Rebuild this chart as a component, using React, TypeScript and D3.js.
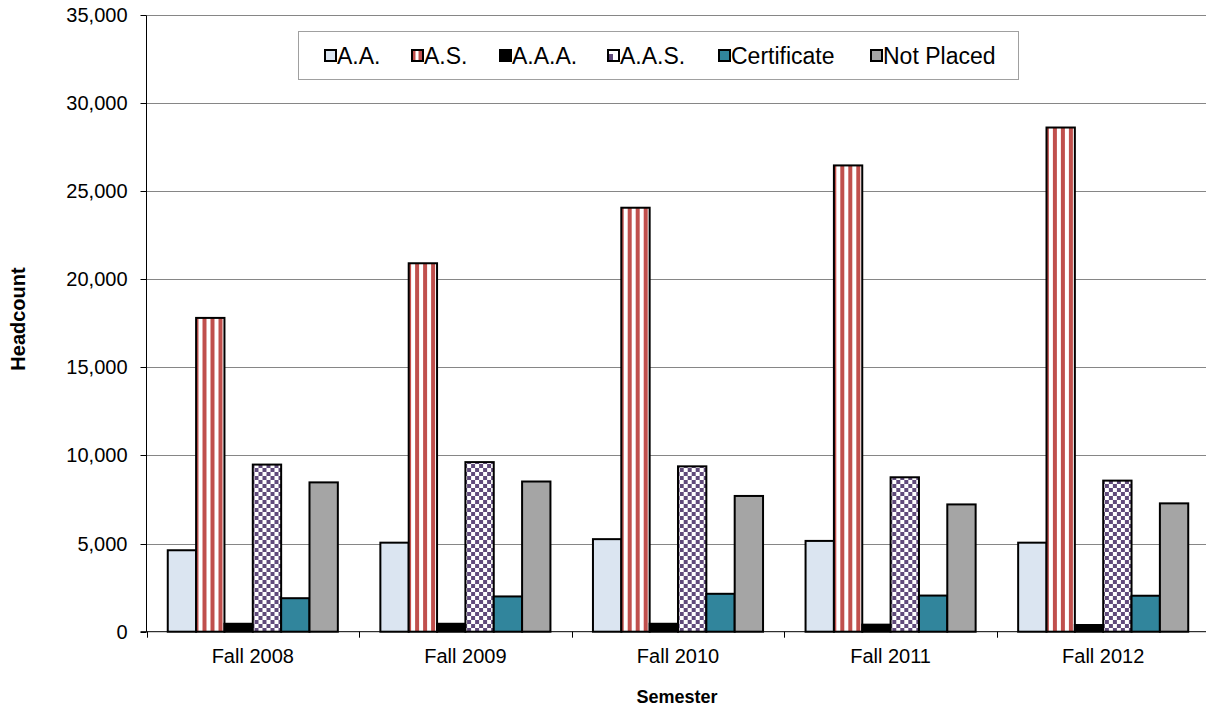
import React, { useEffect, useRef } from "react";
import * as d3 from "d3";

const categories = ["Fall 2008", "Fall 2009", "Fall 2010", "Fall 2011", "Fall 2012"];
const seriesNames = ["A.A.", "A.S.", "A.A.A.", "A.A.S.", "Certificate", "Not Placed"];
const aaValues = [4620, 5050, 5250, 5150, 5050];
const asValues = [17800, 20900, 24050, 26450, 28600];
const aaaValues = [450, 450, 450, 400, 380];
const aasValues = [9480, 9620, 9380, 8760, 8570];
const certValues = [1900, 2000, 2150, 2050, 2040];
const notPlacedValues = [8470, 8520, 7700, 7220, 7280];
const yTicks = [0, 5000, 10000, 15000, 20000, 25000, 30000, 35000];

const seriesValues = [aaValues, asValues, aaaValues, aasValues, certValues, notPlacedValues];
const fills = ["#dbe5f1", "url(#stripes)", "#000000", "url(#checker)", "#31859c", "#a5a5a5"];
const legendFills = ["#dbe5f1", "url(#stripesL)", "#000000", "url(#checkerL)", "#31859c", "#a5a5a5"];
const legendX = [324, 411, 499, 607, 718, 870];

export default function App() {
  const ref = useRef<SVGSVGElement>(null);

  useEffect(() => {
    const svg = d3.select(ref.current);
    svg.selectAll("*").remove();

    const W = 1206;
    const left = 146.5, right = 1209.5, top = 14.7, bottom = 631.7;
    const font = "Arial, 'Liberation Sans', sans-serif";

    const defs = svg.append("defs");
    const st = defs.append("pattern").attr("id", "stripes").attr("patternUnits", "userSpaceOnUse")
      .attr("width", 8).attr("height", 8);
    st.append("rect").attr("width", 8).attr("height", 8).attr("fill", "#ffffff");
    st.append("rect").attr("x", 0).attr("width", 4).attr("height", 8).attr("fill", "#c0504d");
    const stL = defs.append("pattern").attr("id", "stripesL").attr("patternUnits", "userSpaceOnUse")
      .attr("width", 12).attr("height", 12).attr("x", 0).attr("y", 0);
    stL.append("rect").attr("width", 12).attr("height", 12).attr("fill", "#c0504d");
    stL.append("rect").attr("x", 4.5).attr("width", 3).attr("height", 12).attr("fill", "#ffffff");

    const ch = defs.append("pattern").attr("id", "checker").attr("patternUnits", "userSpaceOnUse")
      .attr("width", 8).attr("height", 8);
    ch.append("rect").attr("width", 8).attr("height", 8).attr("fill", "#ffffff");
    ch.append("rect").attr("x", 0).attr("y", 0).attr("width", 4).attr("height", 4).attr("fill", "#604a7b");
    ch.append("rect").attr("x", 4).attr("y", 4).attr("width", 4).attr("height", 4).attr("fill", "#604a7b");
    const chL = defs.append("pattern").attr("id", "checkerL").attr("patternUnits", "userSpaceOnUse")
      .attr("width", 12).attr("height", 12).attr("x", 0).attr("y", 0);
    chL.append("rect").attr("width", 12).attr("height", 12).attr("fill", "#ffffff");
    chL.append("rect").attr("x", 0).attr("y", 6).attr("width", 6).attr("height", 6).attr("fill", "#604a7b");

    const x0 = d3.scaleBand<string>().domain(categories).range([left, right]).padding(0);
    const x1 = d3.scaleBand<string>().domain(seriesNames).range([0, x0.bandwidth()])
      .paddingInner(0).paddingOuter(0.75);
    const y = d3.scaleLinear().domain([0, 35000]).range([bottom, top]);

    // gridlines
    svg.append("g").selectAll("line").data(yTicks.filter(t => t > 0)).join("line")
      .attr("x1", left).attr("x2", W).attr("y1", d => Math.round(y(d)) + 0.5).attr("y2", d => Math.round(y(d)) + 0.5)
      .attr("stroke", "#868686").attr("stroke-width", 1);

    // y axis
    const ya = svg.append("g");
    ya.append("line").attr("x1", left).attr("x2", left).attr("y1", Math.round(y(35000)) + 0.5).attr("y2", bottom)
      .attr("stroke", "#000").attr("stroke-width", 1);
    ya.selectAll("line.tk").data(yTicks).join("line").attr("class", "tk")
      .attr("x1", left - 6).attr("x2", left).attr("y1", d => Math.round(y(d)) + 0.5).attr("y2", d => Math.round(y(d)) + 0.5)
      .attr("stroke", "#000");
    ya.selectAll("text").data(yTicks).join("text")
      .attr("x", left - 19).attr("y", d => y(d)).attr("dy", "0.35em").attr("text-anchor", "end")
      .attr("font-family", font).attr("font-size", 20).attr("fill", "#000")
      .text(d => d3.format(",")(d));

    // bars
    const groups = svg.append("g").selectAll("g").data(categories).join("g")
      .attr("transform", d => `translate(${x0(d)},0)`);
    groups.selectAll("rect").data((c, ci) => seriesNames.map((s, si) => ({ s, si, v: seriesValues[si][ci] })))
      .join("rect")
      .attr("x", d => x1(d.s)!)
      .attr("width", x1.bandwidth())
      .attr("y", d => y(d.v))
      .attr("height", d => bottom - y(d.v))
      .attr("fill", d => fills[d.si])
      .attr("stroke", "#000").attr("stroke-width", 2);

    // x axis
    const xa = svg.append("g");
    xa.append("line").attr("x1", left - 6).attr("x2", W).attr("y1", bottom).attr("y2", bottom)
      .attr("stroke", "#000").attr("stroke-width", 1);
    xa.selectAll("line.tk").data(categories).join("line").attr("class", "tk")
      .attr("x1", d => Math.round(x0(d)!) + 0.5).attr("x2", d => Math.round(x0(d)!) + 0.5)
      .attr("y1", bottom).attr("y2", bottom + 6).attr("stroke", "#000");
    xa.selectAll("text").data(categories).join("text")
      .attr("x", d => x0(d)! + x0.bandwidth() / 2).attr("y", 663).attr("text-anchor", "middle")
      .attr("font-family", font).attr("font-size", 20).attr("fill", "#000").text(d => d);

    // axis titles
    svg.append("text").attr("x", 677).attr("y", 703).attr("text-anchor", "middle")
      .attr("font-family", font).attr("font-size", 18).attr("font-weight", "bold").text("Semester");
    svg.append("text").attr("transform", "translate(25,319) rotate(-90)").attr("text-anchor", "middle")
      .attr("font-family", font).attr("font-size", 20).attr("font-weight", "bold").text("Headcount");

    // legend
    const lg = svg.append("g");
    lg.append("rect").attr("x", 298.5).attr("y", 31.5).attr("width", 720).attr("height", 48)
      .attr("fill", "#fff").attr("stroke", "#a0a0a0").attr("stroke-width", 1);
    const items = lg.selectAll("g").data(seriesNames).join("g")
      .attr("transform", (d, i) => `translate(${legendX[i]},0)`);
    items.append("rect").attr("x", 1).attr("y", 50).attr("width", 11).attr("height", 11)
      .attr("fill", (d, i) => legendFills[i]).attr("stroke", "#000").attr("stroke-width", 2);
    items.append("text").attr("x", 13).attr("y", 64).attr("font-family", font).attr("font-size", 23)
      .attr("fill", "#000").text(d => d);
  }, []);

  return (
    <svg ref={ref} width={1206} height={710}
      style={{ position: "absolute", left: 0, top: 0, background: "#fff" }} />
  );
}
